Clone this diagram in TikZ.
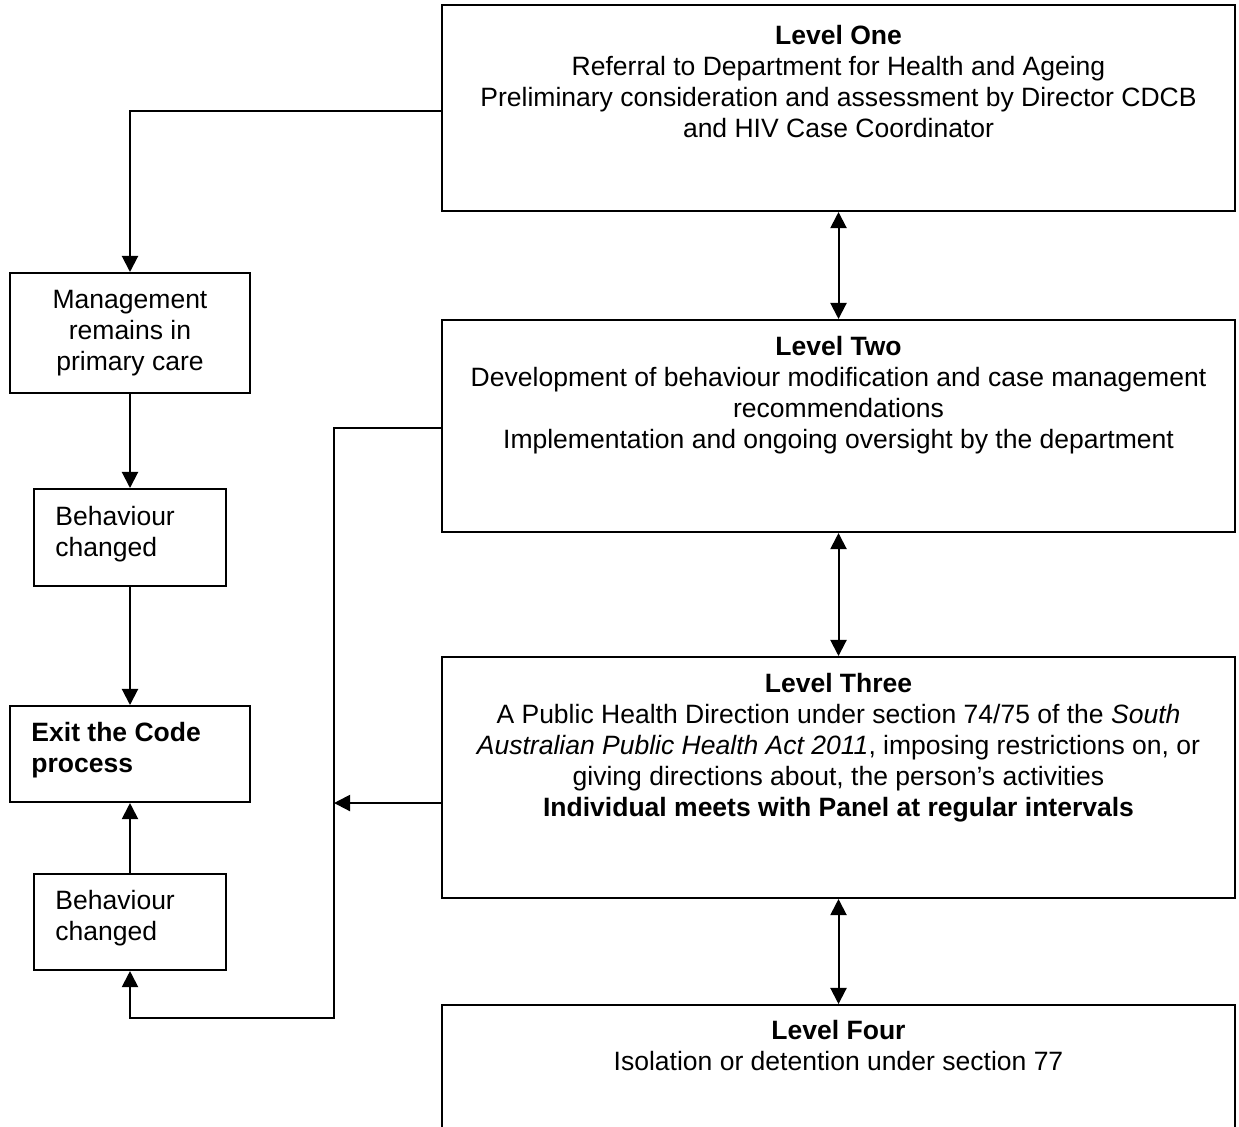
\documentclass[tikz,border=0pt]{standalone}
\usepackage{fontspec}
\setmainfont{Liberation Sans}
\usetikzlibrary{arrows.meta}
\newcommand{\pxu}{0.445pt}
\begin{document}
\begin{tikzpicture}[x=0.445pt,y=-0.445pt,
  every node/.style={font=\fontsize{11.8pt}{13.8pt}\selectfont},
  boxx/.style={draw,line width=0.9pt,rectangle,inner sep=0pt},
  txt/.style={inner sep=0pt,align=center},
  ltxt/.style={inner sep=0pt,align=left,anchor=north west},
  arr/.style={line width=0.9pt,-{Triangle[length=7.2pt,width=7.2pt]}},
  darr/.style={line width=0.9pt,{Triangle[length=7.2pt,width=7.2pt]}-{Triangle[length=7.2pt,width=7.2pt]}}]
\useasboundingbox (0,0) rectangle (1239,1126);
% level boxes
\node[boxx,minimum width=793*\pxu,minimum height=206*\pxu] (L1) at (838.5,108) {};
\node[boxx,minimum width=793*\pxu,minimum height=212*\pxu] (L2) at (838.5,426) {};
\node[boxx,minimum width=793*\pxu,minimum height=241*\pxu] (L3) at (838.5,777.5) {};
\node[boxx,minimum width=793*\pxu,minimum height=140*\pxu] (L4) at (838.5,1075) {};
% left boxes
\node[boxx,minimum width=240*\pxu,minimum height=120*\pxu] (mg) at (130,333) {};
\node[boxx,minimum width=192*\pxu,minimum height=97*\pxu] (b1) at (130,537.5) {};
\node[boxx,minimum width=240*\pxu,minimum height=96*\pxu] (ex) at (130,754) {};
\node[boxx,minimum width=192*\pxu,minimum height=96*\pxu] (b2) at (130,922) {};
% texts
\node[txt,anchor=north] (t1) at (838.5,25) {\textbf{Level One}\\Referral to Department for Health and Ageing\\Preliminary consideration and assessment by Director CDCB\\and HIV Case Coordinator};
\node[txt,anchor=north] (t2) at (838.5,336) {\textbf{Level Two}\\Development of behaviour modification and case management\\recommendations\\Implementation and ongoing oversight by the department};
\node[txt,anchor=north] (t3) at (838.5,673) {\textbf{Level Three}\\A Public Health Direction under section 74/75 of the \textit{South}\\\textit{Australian Public Health Act 2011}, imposing restrictions on, or\\giving directions about, the person's activities\\\textbf{Individual meets with Panel at regular intervals}};
\node[txt,anchor=north] (t4) at (838.5,1020) {\textbf{Level Four}\\Isolation or detention under section 77};
\node[txt,anchor=north] (tm) at (130,290) {Management\\remains in\\primary care};
\node[ltxt] (tb1) at (55,506) {Behaviour\\changed};
\node[ltxt] (tex) at (31,722) {\textbf{Exit the Code}\\\textbf{process}};
\node[ltxt] (tb2) at (55,890) {Behaviour\\changed};
% connectors
\coordinate (c1) at (334,1018);
\coordinate (c2) at (334,803);
\coordinate (c3) at (442,111);
\coordinate (c4) at (442,428);
\draw[arr] (c3) -| (mg.north);
\draw[arr] (mg.south) -- (b1.north);
\draw[arr] (b1.south) -- (ex.north);
\draw[arr] (b2.north) -- (ex.south);
\draw[arr] (c4) -| (c1) -| (b2.south);
\draw[arr] (L3.west |- c2) -- (c2);
\draw[darr] (L1.south) -- (L2.north);
\draw[darr] (L2.south) -- (L3.north);
\draw[darr] (L3.south) -- (L4.north);
\end{tikzpicture}
\end{document}
